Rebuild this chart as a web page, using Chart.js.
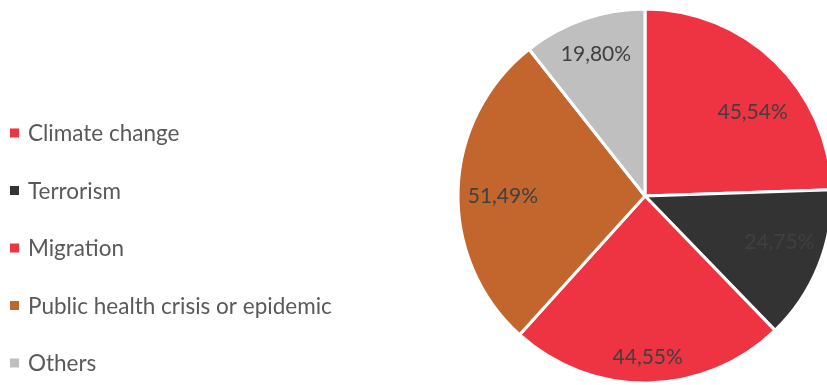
<!DOCTYPE html>
<html>
<head>
<meta charset="utf-8">
<script src="https://cdn.jsdelivr.net/npm/chart.js@4/dist/chart.umd.min.js"></script>
<style>
  html, body { margin: 0; padding: 0; background: #ffffff; overflow: hidden; }
  #wrap { position: absolute; left: 0; top: 0; width: 840px; height: 385px; }
</style>
</head>
<body>
<div id="wrap"><canvas id="chart" width="840" height="385"></canvas></div>
<script>
// Threat categories and their shares (%)
const categories = ['Climate change', 'Terrorism', 'Migration', 'Public health crisis or epidemic', 'Others'];
const shares = [45.54, 24.75, 44.55, 51.49, 19.80];
const valueLabels = ['45,54%', '24,75%', '44,55%', '51,49%', '19,80%'];
const sliceColors = ['#EE3342', '#333333', '#EE3342', '#C3662D', '#BFBFBF'];

// Percentage labels inside the slices
const sliceLabels = {
  id: 'sliceLabels',
  afterDatasetsDraw(chart, args, opts) {
    const ctx = chart.ctx;
    const arcs = chart.getDatasetMeta(0).data;
    ctx.save();
    ctx.font = opts.font;
    ctx.fillStyle = opts.color;
    ctx.textAlign = 'center';
    ctx.textBaseline = 'middle';
    arcs.forEach((arc, i) => {
      const mid = (arc.startAngle + arc.endAngle) / 2 + (opts.angleShift[i] || 0) * Math.PI / 180;
      const r = arc.outerRadius * opts.radial[i];
      ctx.fillText(valueLabels[i], arc.x + Math.cos(mid) * r, arc.y + Math.sin(mid) * r);
    });
    ctx.restore();
  }
};

// Vertical legend on the left
const sideLegend = {
  id: 'sideLegend',
  afterDraw(chart, args, opts) {
    const ctx = chart.ctx;
    ctx.save();
    ctx.font = opts.font;
    ctx.textBaseline = 'middle';
    ctx.textAlign = 'left';
    chart.data.labels.forEach((label, i) => {
      const y = opts.top + i * opts.step;
      ctx.fillStyle = sliceColors[i];
      ctx.fillRect(opts.x, y - opts.box / 2, opts.box, opts.box);
      ctx.fillStyle = opts.color;
      ctx.fillText(label, opts.textX, y + 1);
    });
    ctx.restore();
  }
};

new Chart(document.getElementById('chart'), {
  type: 'pie',
  data: {
    labels: categories,
    datasets: [{
      data: shares,
      backgroundColor: sliceColors,
      borderColor: '#ffffff',
      borderWidth: 3,
      radius: 187
    }]
  },
  options: {
    responsive: false,
    devicePixelRatio: 1,
    animation: false,
    layout: { padding: { left: 450, top: 7, right: 0, bottom: 0 } },
    plugins: {
      legend: { display: false },
      tooltip: { enabled: false },
      sliceLabels: {
        font: '21px Lato',
        color: '#404040',
        radial: [0.73, 0.76, 0.86, 0.76, 0.80],
        angleShift: [8, -3, 0, -2, 0]
      },
      sideLegend: {
        font: '22.5px Lato',
        color: '#595959',
        x: 10, box: 9, textX: 28,
        top: 133, step: 57.5
      }
    }
  },
  plugins: [sliceLabels, sideLegend]
});
</script>
</body>
</html>
